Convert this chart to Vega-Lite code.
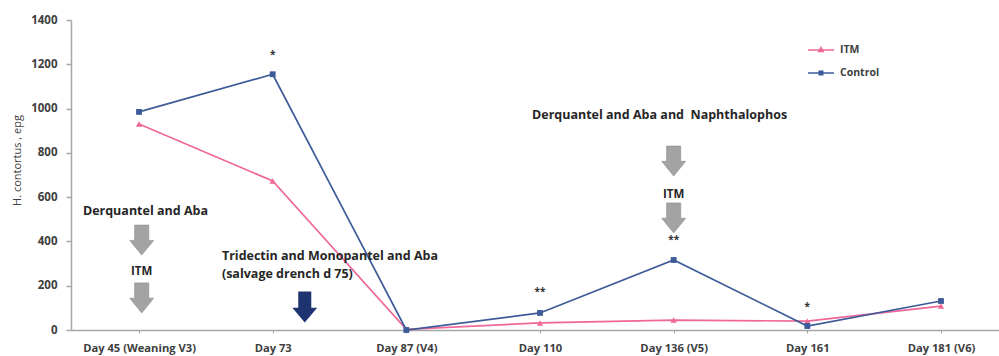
{
  "$schema": "https://vega.github.io/schema/vega-lite/v6.json",
  "width": 928,
  "height": 310,
  "autosize": "none",
  "padding": {"left": 71, "top": 20, "right": 0, "bottom": 26},
  "background": "white",
  "config": {"view": {"stroke": null}, "font": "Open Sans"},
  "datasets": {
    "epg": [
      {"visit": 0, "group": "ITM", "epg": 930},
      {"visit": 1, "group": "ITM", "epg": 673},
      {"visit": 2, "group": "ITM", "epg": 3},
      {"visit": 3, "group": "ITM", "epg": 32},
      {"visit": 4, "group": "ITM", "epg": 45},
      {"visit": 5, "group": "ITM", "epg": 40},
      {"visit": 6, "group": "ITM", "epg": 108},
      {"visit": 0, "group": "Control", "epg": 985},
      {"visit": 1, "group": "Control", "epg": 1155},
      {"visit": 2, "group": "Control", "epg": 0},
      {"visit": 3, "group": "Control", "epg": 77},
      {"visit": 4, "group": "Control", "epg": 316},
      {"visit": 5, "group": "Control", "epg": 18},
      {"visit": 6, "group": "Control", "epg": 131}
    ],
    "notes": [
      {"visit": -0.42, "epg": 537, "text": "Derquantel and Aba"},
      {"visit": 0.62, "epg": 334, "text": "Tridectin and Monopantel and Aba"},
      {"visit": 0.62, "epg": 253, "text": "(salvage drench d 75)"},
      {"visit": 2.94, "epg": 971, "text": "Derquantel and Aba and\u00a0 Naphthalophos"}
    ],
    "itm": [
      {"visit": 0.02, "epg": 262, "text": "ITM"},
      {"visit": 4, "epg": 610, "text": "ITM"}
    ],
    "grayArrows": [
      {"visit": 0.02, "epg": 406},
      {"visit": 0.02, "epg": 145},
      {"visit": 4, "epg": 763},
      {"visit": 4, "epg": 506}
    ],
    "salvage": [
      {"visit": 1.24, "epg": 104}
    ],
    "stars": [
      {"visit": 1, "epg": 1242, "text": "*"},
      {"visit": 3, "epg": 172, "text": "**"},
      {"visit": 4, "epg": 406, "text": "**"},
      {"visit": 5, "epg": 104, "text": "*"}
    ]
  },
  "layer": [
    {
      "data": {"name": "epg"},
      "mark": {"type": "line", "strokeWidth": 1.7},
      "encoding": {
        "x": {
          "field": "visit",
          "type": "quantitative",
          "scale": {"domain": [-0.509, 6.434], "nice": false, "zero": false},
          "axis": {
            "title": null,
            "values": [0, 1, 2, 3, 4, 5, 6],
            "labelExpr": "['Day 45 (Weaning V3)','Day 73','Day 87 (V4)','Day 110','Day 136 (V5)','Day 161','Day 181 (V6)'][datum.value]",
            "grid": false,
            "domainColor": "#a6a6a6",
            "domainWidth": 1.5,
            "tickColor": "#a6a6a6",
            "tickSize": 3,
            "labelFontSize": 11.2,
            "labelFontWeight": "bold",
            "labelColor": "#404040",
            "labelPadding": 9,
            "labelFlush": false,
            "labelOverlap": false
          }
        },
        "y": {
          "field": "epg",
          "type": "quantitative",
          "scale": {"domain": [0, 1400], "nice": false},
          "axis": {
            "title": "H. contortus , epg",
            "values": [0, 200, 400, 600, 800, 1000, 1200, 1400],
            "format": "d",
            "grid": false,
            "domainColor": "#a6a6a6",
            "domainWidth": 1.5,
            "tickColor": "#a6a6a6",
            "tickSize": 5,
            "tickWidth": 1.5,
            "labelPadding": 9,
            "labelFontSize": 11.5,
            "labelFontWeight": "bold",
            "labelColor": "#404040",
            "titleFontSize": 11,
            "titleFontWeight": "normal",
            "titleColor": "#404040",
            "titleX": -54,
            "titleY": 140,
            "titleAlign": "center",
            "titleBaseline": "middle",
            "encode": {"ticks": {"update": {"x": {"value": 5}}}}
          }
        },
        "color": {
          "field": "group",
          "type": "nominal",
          "scale": {"domain": ["ITM", "Control"], "range": ["#f0679a", "#3d5b98"]},
          "legend": {
            "title": null,
            "orient": "none",
            "legendX": 741,
            "legendY": 21,
            "padding": 0,
            "symbolSize": 256,
            "rowPadding": 8,
            "labelOffset": 10,
            "labelFontSize": 10.5,
            "labelFontWeight": "bold",
            "labelColor": "#404040",
            "encode": {
              "symbols": {
                "update": {
                  "shape": {"signal": "datum.value === 'ITM' ? 'M-1.62,0H1.62M0,-0.3L0.28,0.2L-0.28,0.2Z' : 'M-1.62,0H1.62M-0.22,-0.22H0.22V0.22H-0.22Z'"},
                  "fill": {"scale": "color", "field": "value"},
                  "stroke": {"scale": "color", "field": "value"},
                  "strokeWidth": {"value": 1.5},
                  "opacity": {"value": 1}
                }
              }
            }
          }
        }
      }
    },
    {
      "data": {"name": "epg"},
      "transform": [{"filter": "datum.group === 'ITM'"}],
      "mark": {"type": "point", "shape": "triangle-up", "filled": true, "opacity": 1, "size": 40},
      "encoding": {
        "x": {"field": "visit", "type": "quantitative"},
        "y": {"field": "epg", "type": "quantitative"},
        "color": {"field": "group", "type": "nominal"}
      }
    },
    {
      "data": {"name": "epg"},
      "transform": [{"filter": "datum.group === 'Control'"}],
      "mark": {"type": "point", "shape": "square", "filled": true, "opacity": 1, "size": 34},
      "encoding": {
        "x": {"field": "visit", "type": "quantitative"},
        "y": {"field": "epg", "type": "quantitative"},
        "color": {"field": "group", "type": "nominal"}
      }
    },
    {
      "data": {"name": "grayArrows"},
      "mark": {
        "type": "point",
        "shape": "M-0.47,-1L0.47,-1L0.47,0.02L0.8,0.02L0,1L-0.8,0.02L-0.47,0.02Z",
        "filled": true,
        "fill": "#a3a3a3",
        "stroke": "#8a8a8a",
        "strokeWidth": 0.6,
        "opacity": 1,
        "size": 900
      },
      "encoding": {
        "x": {"field": "visit", "type": "quantitative"},
        "y": {"field": "epg", "type": "quantitative"}
      }
    },
    {
      "data": {"name": "salvage"},
      "mark": {
        "type": "point",
        "shape": "M-0.42,-1L0.42,-1L0.42,0.05L0.8,0.05L0,1L-0.8,0.05L-0.42,0.05Z",
        "filled": true,
        "fill": "#1d3470",
        "opacity": 1,
        "size": 961
      },
      "encoding": {
        "x": {"field": "visit", "type": "quantitative"},
        "y": {"field": "epg", "type": "quantitative"}
      }
    },
    {
      "data": {"name": "notes"},
      "mark": {"type": "text", "align": "left", "baseline": "middle", "fontSize": 12.5, "fontWeight": "bold", "color": "#262626"},
      "encoding": {
        "x": {"field": "visit", "type": "quantitative"},
        "y": {"field": "epg", "type": "quantitative"},
        "text": {"field": "text"}
      }
    },
    {
      "data": {"name": "itm"},
      "mark": {"type": "text", "align": "center", "baseline": "middle", "fontSize": 11.5, "fontWeight": "bold", "color": "#262626"},
      "encoding": {
        "x": {"field": "visit", "type": "quantitative"},
        "y": {"field": "epg", "type": "quantitative"},
        "text": {"field": "text"}
      }
    },
    {
      "data": {"name": "stars"},
      "mark": {"type": "text", "align": "center", "baseline": "middle", "fontSize": 10, "fontWeight": "bold", "color": "#333333"},
      "encoding": {
        "x": {"field": "visit", "type": "quantitative"},
        "y": {"field": "epg", "type": "quantitative"},
        "text": {"field": "text"}
      }
    }
  ]
}
